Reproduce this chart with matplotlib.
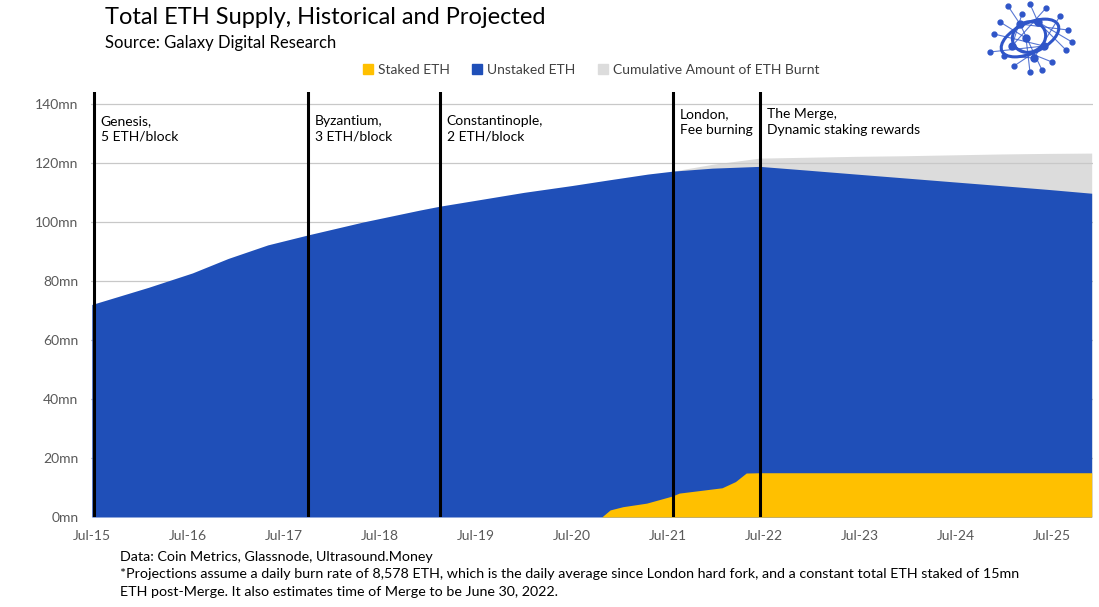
import numpy as np
import pandas as pd
import matplotlib
matplotlib.use("Agg")
import matplotlib.pyplot as plt
from matplotlib.lines import Line2D
from matplotlib.patches import Ellipse

plt.rcParams["font.family"] = ["Lato", "DejaVu Sans"]

# net ETH supply (staked + unstaked), mn ETH
supply_dates = ["2015-07-15", "2016-02-15", "2016-08-01", "2016-12-15", "2017-05-15",
                "2017-10-16", "2018-05-15", "2018-12-15", "2019-02-28", "2019-07-15",
                "2020-01-15", "2020-07-15", "2020-12-01", "2021-05-01", "2021-08-05",
                "2022-01-01", "2022-06-30", "2023-01-01", "2023-07-01", "2024-01-01",
                "2024-07-01", "2025-01-01", "2025-07-01", "2025-12-15"]
supply_mn = [72.0, 77.8, 82.7, 87.6, 92.2,
             95.6, 100.0, 104.0, 105.3, 107.3,
             110.0, 112.3, 114.2, 116.2, 117.2,
             118.2, 118.8, 117.5, 116.2, 114.9,
             113.6, 112.3, 111.0, 109.7]

# supply without burn (net supply + cumulative burnt), mn ETH
gross_dates = ["2021-08-05", "2022-01-01", "2022-06-30", "2023-01-01", "2023-07-01",
               "2024-01-01", "2024-07-01", "2025-01-01", "2025-07-01", "2025-12-15"]
gross_mn = [117.2, 119.5, 121.6, 121.9, 122.2, 122.4, 122.7, 123.0, 123.2, 123.3]

# staked ETH, mn ETH
staked_dates = ["2020-11-06", "2020-12-08", "2021-01-26", "2021-04-26", "2021-08-01",
                "2021-08-28", "2022-02-07", "2022-03-30", "2022-05-10", "2022-06-30",
                "2025-12-15"]
staked_mn = [0.0, 2.4, 3.5, 4.7, 7.1, 8.1, 9.9, 12.0, 14.9, 15.0, 15.0]

event_dates = ["2015-07-22", "2017-10-16", "2019-02-28", "2021-08-05", "2022-06-30"]
event_labels = ["Genesis,\n5 ETH/block", "Byzantium,\n3 ETH/block",
                "Constantinople,\n2 ETH/block", "London,\nFee burning",
                "The Merge,\nDynamic staking rewards"]
event_ypos = [0.946, 0.946, 0.946, 0.962, 0.962]

tick_dates = pd.date_range("2015-07-15", periods=11, freq=pd.DateOffset(years=1))
tick_labels = ["Jul-%02d" % (d.year % 100) for d in tick_dates]
y_ticks = np.arange(0, 141, 20)

c_staked = "#FFC000"
c_unstaked = "#1F4FB8"
c_burnt = "#DCDCDC"

fig = plt.figure(figsize=(10.99, 6.07), dpi=100)
ax = fig.add_axes([91/1099, 1-517/607, 1002/1099, 425/607])

ax.fill_between(pd.to_datetime(gross_dates), 0, gross_mn, color=c_burnt, lw=0, zorder=1)
ax.fill_between(pd.to_datetime(supply_dates), 0, supply_mn, color=c_unstaked, lw=0, zorder=3)
ax.fill_between(pd.to_datetime(staked_dates), 0, staked_mn, color=c_staked, lw=0, zorder=4)

for d, lab, yp in zip(event_dates, event_labels, event_ypos):
    ax.axvline(pd.Timestamp(d), color="black", lw=2.2, zorder=5)
    ax.annotate(lab, xy=(pd.Timestamp(d), yp), xycoords=("data", "axes fraction"),
                xytext=(5, 0), textcoords="offset points", va="top", ha="left",
                fontsize=10, color="black", linespacing=1.4)

ax.set_xlim(pd.Timestamp("2015-07-12"), pd.Timestamp("2025-12-20"))
ax.set_ylim(0, 144)
ax.set_yticks(y_ticks)
ax.set_yticklabels(["%dmn" % v for v in y_ticks])
ax.set_xticks(tick_dates)
ax.set_xticklabels(tick_labels)
ax.tick_params(axis="both", length=0, labelsize=10, labelcolor="#595959")
ax.tick_params(axis="y", pad=9)
ax.tick_params(axis="x", pad=9)
ax.grid(axis="y", color="#C8C8C8", lw=0.9, zorder=2)
ax.set_axisbelow(False)
for s in ax.spines.values():
    s.set_visible(False)

# title block
fig.text(105/1099, 1-18/607, "Total ETH Supply, Historical and Projected",
         fontsize=17, va="center", ha="left", color="black")
fig.text(105/1099, 1-43/607, "Source: Galaxy Digital Research",
         fontsize=12, va="center", ha="left", color="black")

handles = [Line2D([], [], marker="s", ls="", color=c, markersize=6.5)
           for c in (c_staked, c_unstaked, c_burnt)]
fig.legend(handles, ["Staked ETH", "Unstaked ETH", "Cumulative Amount of ETH Burnt"],
           loc="center", bbox_to_anchor=(591/1099, 1-70/607), ncol=3, frameon=False,
           fontsize=10, handlelength=0.8, handletextpad=0.3, columnspacing=1.6,
           labelcolor="#404040")

# footnotes
notes = ["Data: Coin Metrics, Glassnode, Ultrasound.Money",
         "*Projections assume a daily burn rate of 8,578 ETH, which is the daily average since "
         "London hard fork, and a constant total ETH staked of 15mn",
         "ETH post-Merge. It also estimates time of Merge to be June 30, 2022."]
for i, n in enumerate(notes):
    fig.text(120/1099, 1-(557+17.5*i)/607, n, fontsize=10.3, va="center", ha="left",
             color="black")

# logo
lg = fig.add_axes([982/1099, 1-76/607, 96/1099, 76/607])
lg.set_xlim(0, 96)
lg.set_ylim(76, 0)
lg.axis("off")
blue = "#2F55C8"
nodes = [(26, 6), (48, 4), (64, 8), (12, 34), (18, 22), (78, 16), (86, 30), (84, 50),
         (70, 62), (32, 66), (48, 72), (22, 56), (60, 70), (90, 42), (40, 14), (8, 52)]
hubs = [(38, 24), (56, 22), (30, 46), (62, 46), (44, 38), (52, 58)]
for i, (x, y) in enumerate(nodes):
    hx, hy = hubs[i % len(hubs)]
    lg.plot([x, hx], [y, hy], color=blue, lw=0.8, alpha=0.8)
    lg.plot(x, y, "o", color=blue, markersize=3.5)
for hx, hy in hubs:
    lg.plot(hx, hy, "o", color=blue, markersize=5)
lg.add_patch(Ellipse((48, 38), 62, 30, angle=-25, fill=False, ec=blue, lw=2.2))
lg.add_patch(Ellipse((47, 37), 34, 30, angle=-25, fill=False, ec=blue, lw=2.2))

fig.savefig("out.png", dpi=100)
